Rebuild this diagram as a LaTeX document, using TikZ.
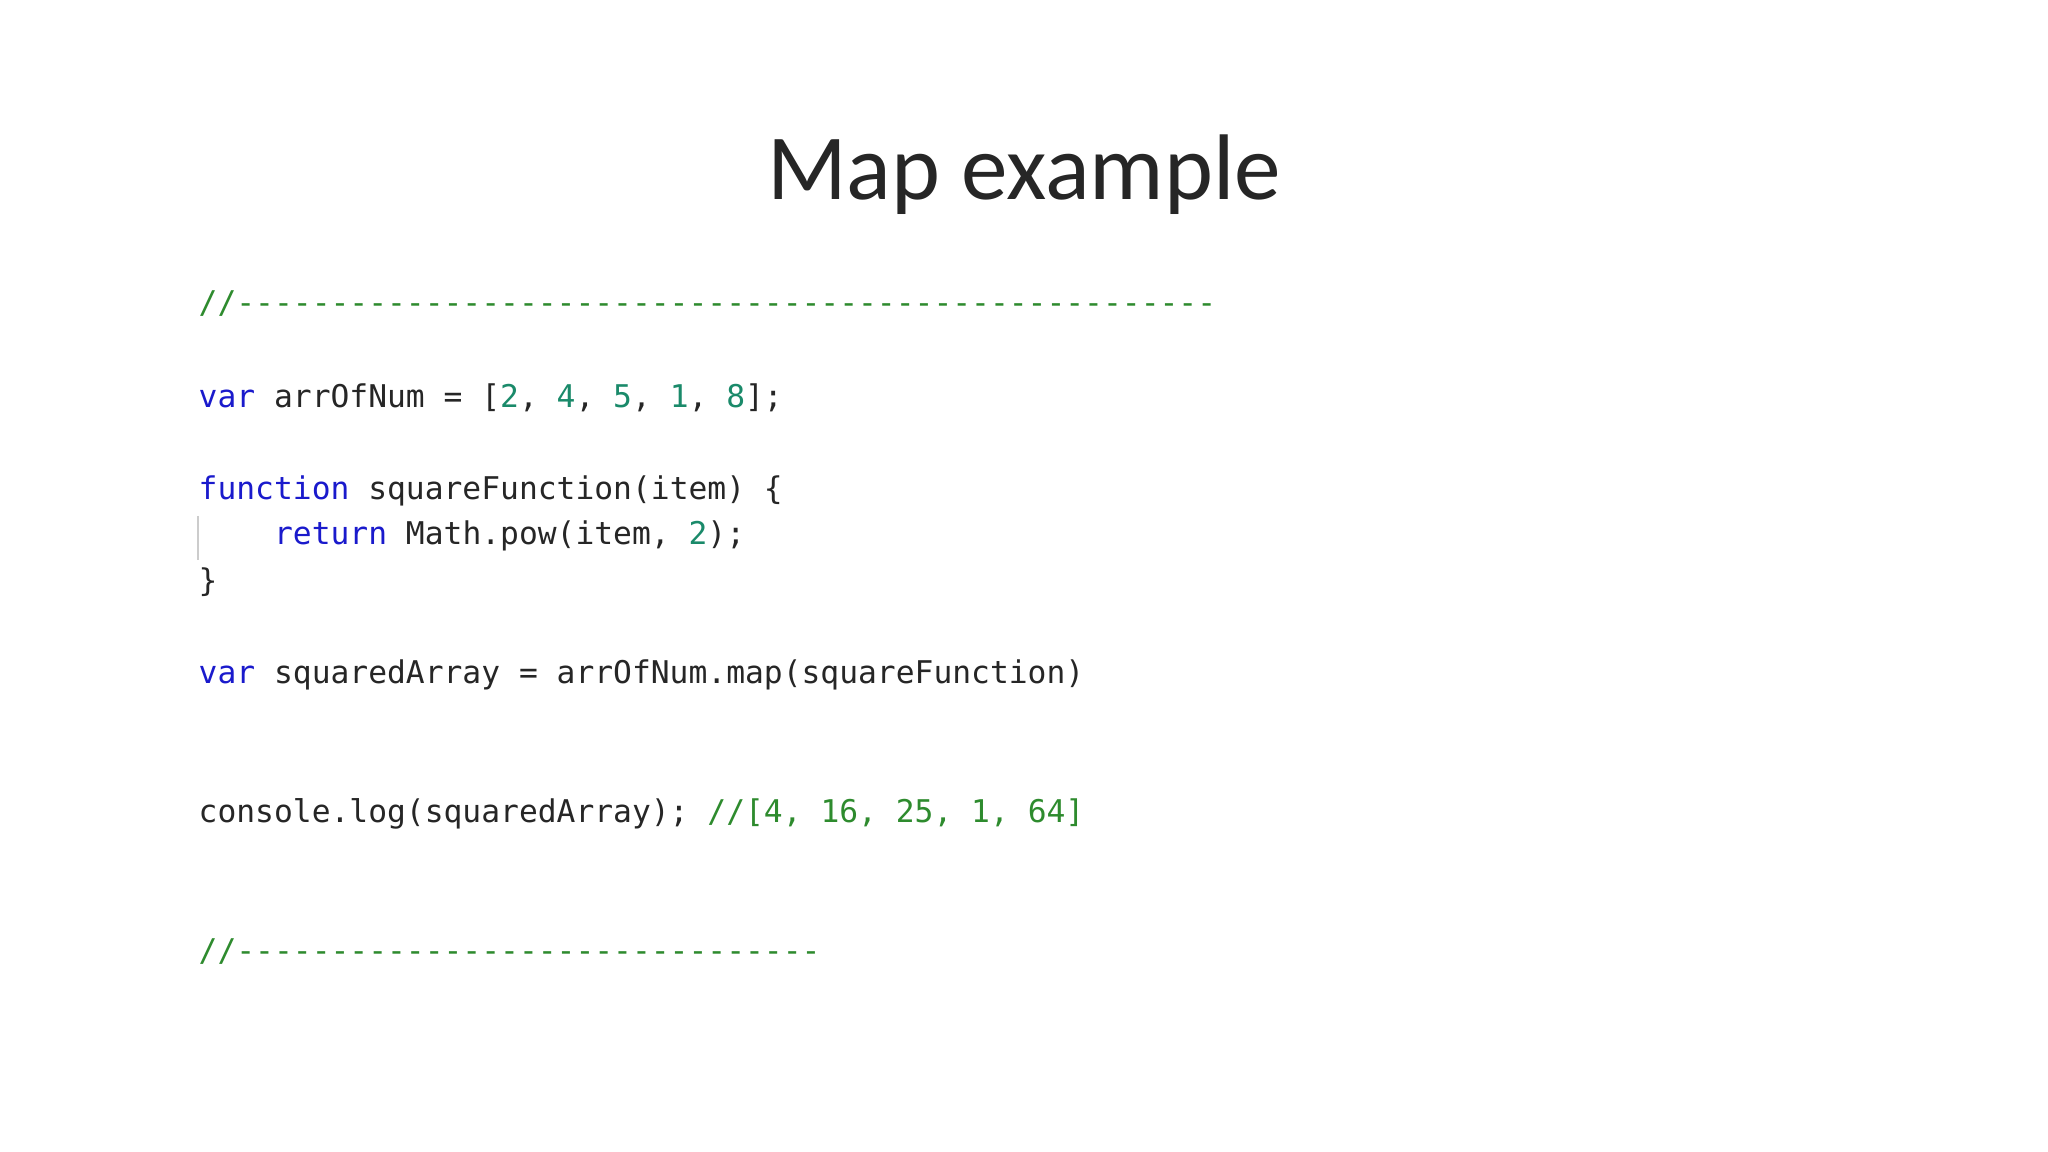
\documentclass[tikz,border=0pt]{standalone}
\usepackage{fontspec}
\setmainfont{Carlito}
\setmonofont{DejaVu Sans Mono}
\definecolor{kw}{HTML}{1A1ACC}
\definecolor{num}{HTML}{1A8A6A}
\definecolor{cmt}{HTML}{2E8B2E}
\definecolor{txt}{HTML}{262626}
\newcommand{\kwd}[1]{\textcolor{kw}{#1}}
\newcommand{\nmb}[1]{\textcolor{num}{#1}}
\newcommand{\cmnt}[1]{\textcolor{cmt}{#1}}
\tikzset{code/.style={anchor=base west,inner sep=0pt,font=\ttfamily\fontsize{8.9}{10}\selectfont,text=txt}}
\begin{document}
\begin{tikzpicture}[x=0.01cm,y=0.01cm]
\useasboundingbox[fill=white] (0,0) rectangle (2048,1152);
\node[font=\fontsize{26.5}{30}\selectfont, anchor=base, text=black!85] (title) at (1024,952) {Map example};
\node[code] (l1) at (198,838) {\cmnt{//----------------------------------------------------}};
\node[code] (l2) at (198,744) {\kwd{var} arrOfNum = [\nmb{2}, \nmb{4}, \nmb{5}, \nmb{1}, \nmb{8}];};
\node[code] (l3) at (198,652) {\kwd{function} squareFunction(item) \{};
\node[code] (l4) at (198,607) {\ \ \ \ \kwd{return} Math.pow(item, \nmb{2});};
\node[code] (l5) at (198,560) {\}};
\node[code] (l6) at (198,468) {\kwd{var} squaredArray = arrOfNum.map(squareFunction)};
\node[code] (l7) at (198,329) {console.log(squaredArray); \cmnt{//[4, 16, 25, 1, 64]}};
\node[code] (l8) at (198,190) {\cmnt{//-------------------------------}};
\draw[black!20, line width=0.8pt] (198,636) -- (198,592);
\end{tikzpicture}
\end{document}
